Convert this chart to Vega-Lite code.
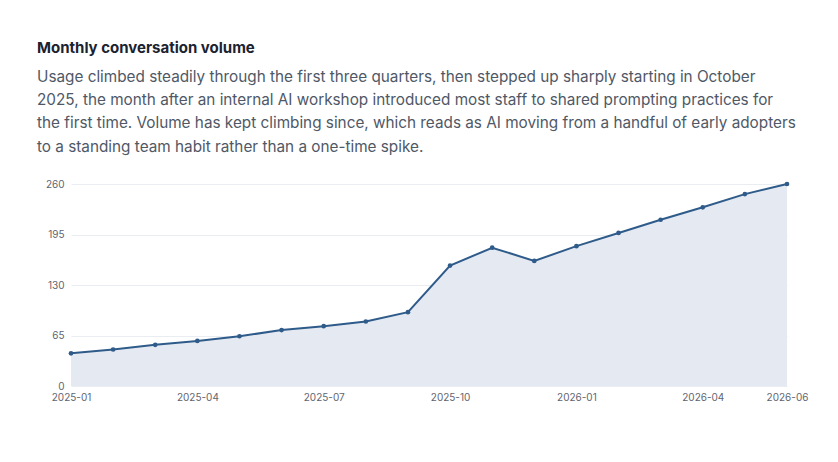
{
  "$schema": "https://vega.github.io/schema/vega-lite/v6.json",
  "width": 716,
  "height": 202,
  "autosize": {"type": "none"},
  "padding": {"left": 71, "top": 184, "right": 51, "bottom": 76},
  "background": "white",
  "title": {
    "text": "Monthly conversation volume",
    "subtitle": [
      "Usage climbed steadily through the first three quarters, then stepped up sharply starting in October",
      "2025, the month after an internal AI workshop introduced most staff to shared prompting practices for",
      "the first time. Volume has kept climbing since, which reads as AI moving from a handful of early adopters",
      "to a standing team habit rather than a one-time spike."
    ],
    "anchor": "start",
    "frame": "group",
    "dx": -34,
    "offset": 24,
    "font": "Inter",
    "fontSize": 15,
    "fontWeight": 700,
    "color": "#1b2230",
    "subtitleFont": "Inter",
    "subtitleFontSize": 15.3,
    "subtitleColor": "#4f5866",
    "subtitleLineHeight": 23.4,
    "subtitlePadding": 14
  },
  "data": {
    "values": [
      {"month": "2025-01", "conversations": 42},
      {"month": "2025-02", "conversations": 47},
      {"month": "2025-03", "conversations": 53},
      {"month": "2025-04", "conversations": 58},
      {"month": "2025-05", "conversations": 64},
      {"month": "2025-06", "conversations": 72},
      {"month": "2025-07", "conversations": 77},
      {"month": "2025-08", "conversations": 83},
      {"month": "2025-09", "conversations": 95},
      {"month": "2025-10", "conversations": 155},
      {"month": "2025-11", "conversations": 178},
      {"month": "2025-12", "conversations": 161},
      {"month": "2026-01", "conversations": 180},
      {"month": "2026-02", "conversations": 197},
      {"month": "2026-03", "conversations": 214},
      {"month": "2026-04", "conversations": 230},
      {"month": "2026-05", "conversations": 247},
      {"month": "2026-06", "conversations": 260}
    ]
  },
  "encoding": {
    "x": {
      "field": "month",
      "type": "ordinal",
      "scale": {"type": "point", "padding": 0},
      "axis": {
        "title": null,
        "labelAngle": 0,
        "values": ["2025-01", "2025-04", "2025-07", "2025-10", "2026-01", "2026-04", "2026-06"],
        "domain": false,
        "ticks": false,
        "grid": false,
        "labelPadding": 6,
        "labelFont": "Inter",
        "labelFontSize": 10,
        "labelColor": "#5f6570"
      }
    },
    "y": {
      "field": "conversations",
      "type": "quantitative",
      "scale": {"domain": [0, 260], "nice": false},
      "axis": {
        "title": null,
        "values": [0, 65, 130, 195, 260],
        "domain": false,
        "ticks": false,
        "labelPadding": 7,
        "labelFont": "Inter",
        "labelFontSize": 10,
        "labelColor": "#5f6570",
        "gridColor": "#e9ecf0",
        "gridWidth": 1
      }
    }
  },
  "layer": [
    {"mark": {"type": "area", "color": "#e5e9f1", "opacity": 1}},
    {"mark": {"type": "line", "color": "#2e5b8a", "strokeWidth": 2}},
    {"mark": {"type": "point", "filled": true, "color": "#2e5b8a", "size": 22, "opacity": 1}}
  ],
  "config": {
    "view": {"stroke": null}
  }
}
